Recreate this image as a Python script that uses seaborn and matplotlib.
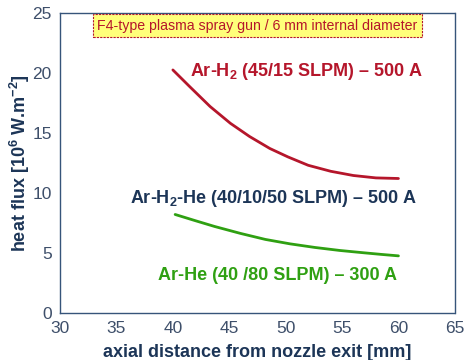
import matplotlib
matplotlib.use('Agg')
import matplotlib.pyplot as plt
import seaborn as sns
import pandas as pd

# Data
dist_ar_h2 = [40, 41.5, 43.3, 45.1, 46.8, 48.6, 50.2, 52, 54, 56, 58, 60]
flux_ar_h2 = [20.25, 18.85, 17.2, 15.8, 14.7, 13.7, 13.0, 12.3, 11.8, 11.45, 11.25, 11.2]
dist_ar_he = [40.2, 42, 43.7, 46, 48.2, 50.4, 52.6, 54.8, 57.0, 58.5, 60]
flux_ar_he = [8.2, 7.68, 7.2, 6.62, 6.12, 5.75, 5.45, 5.2, 5.0, 4.87, 4.75]

label_ar_h2 = 'Ar-H$_2$ (45/15 SLPM) \u2013 500 A'
label_ar_h2_he = 'Ar-H$_2$-He (40/10/50 SLPM) \u2013 500 A'
label_ar_he = 'Ar-He (40 /80 SLPM) \u2013 300 A'
box_text = 'F4-type plasma spray gun / 6 mm internal diameter'

red = '#b5162b'
green = '#2fa012'
navy = '#1c3557'
tick_col = '#3e4f6a'

sns.set_style('white')
plt.rcParams['font.family'] = ['Liberation Sans', 'DejaVu Sans']
plt.rcParams['mathtext.fontset'] = 'custom'
plt.rcParams['mathtext.bf'] = 'Liberation Sans:bold'
plt.rcParams['mathtext.rm'] = 'Liberation Sans:bold'
plt.rcParams['mathtext.default'] = 'bf'

df = pd.DataFrame({
    'x': dist_ar_h2 + dist_ar_he,
    'y': flux_ar_h2 + flux_ar_he,
    'series': ['h2'] * len(dist_ar_h2) + ['he'] * len(dist_ar_he),
})

fig = plt.figure(figsize=(4.66, 3.6), dpi=100)
ax = fig.add_axes([0.129, 0.131, 0.847, 0.833])

sns.lineplot(data=df, x='x', y='y', hue='series', palette={'h2': red, 'he': green},
             ax=ax, legend=False, linewidth=2, sort=False)

ax.set_xlim(30, 65)
ax.set_ylim(0, 25)
ax.set_xticks(range(30, 66, 5))
ax.set_yticks(range(0, 26, 5))
ax.tick_params(axis='both', length=0, labelsize=12.5, labelcolor=tick_col)
ax.tick_params(axis='x', pad=6)
ax.tick_params(axis='y', pad=6)

for s in ax.spines.values():
    s.set_color('#36547a')
    s.set_linestyle((0, (1.5, 1)))
    s.set_linewidth(1)

ax.set_xlabel('axial distance from nozzle exit [mm]', fontsize=13,
              fontweight='bold', color=navy, labelpad=5.5)
ax.set_ylabel('heat flux [10$^6$ W.m$^{-2}$]', fontsize=13,
              fontweight='bold', color=navy, labelpad=0.5)

ax.text(0.5, 0.958, box_text, transform=ax.transAxes, ha='center', va='center',
        fontsize=10.2, color=red,
        bbox=dict(boxstyle='square,pad=0.3', facecolor='#ffff7a',
                  edgecolor=red, linestyle=(0, (2, 1)), linewidth=0.8))

ax.text(41.5, 20.1, label_ar_h2, fontsize=13, fontweight='bold', color=red,
        ha='left', va='center')
ax.text(36.2, 9.55, label_ar_h2_he, fontsize=13, fontweight='bold', color=navy,
        ha='left', va='center')
ax.text(38.65, 3.1, label_ar_he, fontsize=13, fontweight='bold', color=green,
        ha='left', va='center')

fig.savefig('out.png', dpi=100)
